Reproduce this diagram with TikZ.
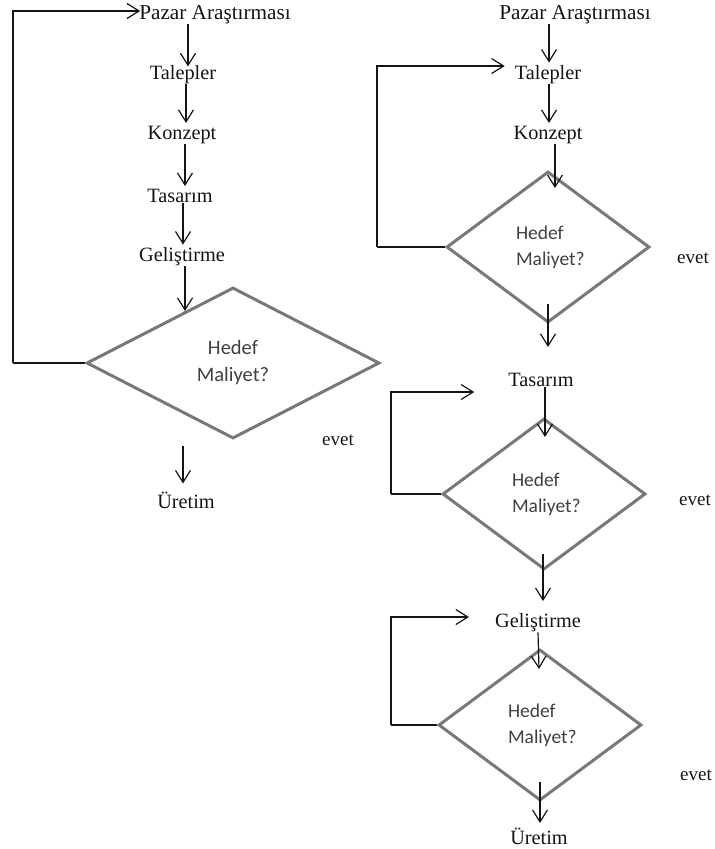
\documentclass[tikz,border=0pt]{standalone}
\usepackage{fontspec}
\setmainfont{Liberation Serif}
\newfontfamily\calib{Carlito}
\usetikzlibrary{arrows.meta,shapes.geometric,calc}
\definecolor{dgray}{RGB}{120,120,120}
\definecolor{lblack}{RGB}{20,20,20}
\begin{document}
\begin{tikzpicture}[x=1pt,y=-1pt,
  lbl/.style={inner sep=0pt,font=\fontsize{20.3}{24}\selectfont,text=lblack},
  lblw/.style={inner sep=0pt,font=\fontsize{21.2}{24}\selectfont,text=lblack},
  evt/.style={inner sep=0pt,font=\fontsize{19}{23}\selectfont,text=lblack},
  arr/.style={draw=lblack,line width=1.2pt,-{Straight Barb[length=12pt,width=15pt]}},
  loopln/.style={draw=lblack,line width=1.2pt},
  dbig/.style={shape=diamond,draw=dgray,line width=3pt,inner sep=0pt,minimum width=293pt,minimum height=151pt,align=center,text=black!75,font=\calib\fontsize{20.5}{27}\selectfont},
  dsmall/.style={shape=diamond,draw=dgray,line width=3pt,inner sep=0pt,minimum width=203pt,minimum height=151pt,text width=64pt,align=left,text=black!75,font=\calib\fontsize{19.5}{26}\selectfont}]
\useasboundingbox (0,0) rectangle (715,849);
% ---------- left column ----------
\node[lblw] (pazarL) at (215,15) {Pazar Araştırması};
\node[lbl] (talepL) at (183,75) {Talepler};
\node[lbl] (konzL) at (182,135) {Konzept};
\node[lbl] (tasL) at (180,196) {Tasarım};
\node[lbl] (gelL) at (182,257) {Geliştirme};
\node[dbig] (dL) at (233,363) {Hedef\\Maliyet?};
\node[evt] (evetL) at (338,440) {evet};
\node[lbl] (uretL) at (186,500) {Üretim};
\coordinate (eL) at ($(dL.west)!0.6757!(dL.north)$);
\draw[arr] ($(pazarL.south)+(-27,0)$) -- ($(pazarL.south)+(-27,42)$);
\draw[arr] ($(talepL.south)+(3,0)$) -- ($(konzL.north)+(4,-3)$);
\draw[arr] ($(konzL.south)+(3,0)$) -- ($(tasL.north)+(5,-3)$);
\draw[arr] ($(tasL.south)+(3,0)$) -- ($(gelL.north)+(1,-3)$);
\draw[arr] (gelL.south -| eL) -- (eL);
\draw[arr] ($(uretL.north |- dL.south)+(-3,6)$) -- ($(uretL.north)+(-3,-8)$);
\draw[loopln] (dL.west) -- ++(-72,0) coordinate (cL1);
\draw[arr] (cL1) |- ($(pazarL.west)+(1,-4)$);
% ---------- right column ----------
\node[lblw] (pazarR) at (575,15) {Pazar Araştırması};
\node[lbl] (talepR) at (548,75) {Talepler};
\node[lbl] (konzR) at (548,135) {Konzept};
\node[dsmall] (dR1) at (548,247) {Hedef\\Maliyet?};
\node[evt] (evet1) at (693,258) {evet};
\node[lbl] (tasR) at (541,380) {Tasarım};
\node[dsmall] (dR2) at (544,494) {Hedef\\Maliyet?};
\node[evt] (evet2) at (695,500) {evet};
\node[lbl] (gelR) at (538,623) {Geliştirme};
\node[dsmall] (dR3) at (540,725) {Hedef\\Maliyet?};
\node[evt] (evet3) at (696,775) {evet};
\node[lbl] (uretR) at (539,836) {Üretim};
\draw[arr] ($(talepR.north |- pazarR.south)+(1,0)$) -- ($(talepR.north)+(1,-3)$);
\draw[arr] ($(konzR.north |- talepR.south)+(1,0)$) -- ($(konzR.north)+(1,-3)$);
\draw[arr] ($(konzR.south)+(7,0)$) -- ($(dR1.north)+(7,18)$);
\draw[arr] ($(dR1.south)+(0,-20)$) -- ($(dR1.south)+(0,23)$);
\draw[arr] ($(dR2.north |- tasR.south)+(1,0)$) -- ($(dR2.north)+(1,20)$);
\draw[arr] ($(dR2.south)+(-1,-17)$) -- ($(dR2.south)+(-1,30)$);
\draw[arr] (gelR.south) -- ($(dR3.north)+(-1,21)$);
\draw[arr] ($(dR3.south)+(0,-20)$) -- ($(dR3.south)+(0,21)$);
\draw[loopln] (dR1.west) -- ++(-68,0) coordinate (cR1);
\draw[arr] (cR1) |- ($(talepR.west)+(-10,-9)$);
\draw[loopln] (dR2.west) -- ++(-50,0) coordinate (cR2);
\draw[arr] (cR2) |- ($(tasR.west)+(-34,12)$);
\draw[loopln] (dR3.west) -- ++(-46,0) coordinate (cR3);
\draw[arr] (cR3) |- ($(gelR.west)+(-26,-6)$);
\end{tikzpicture}
\end{document}
